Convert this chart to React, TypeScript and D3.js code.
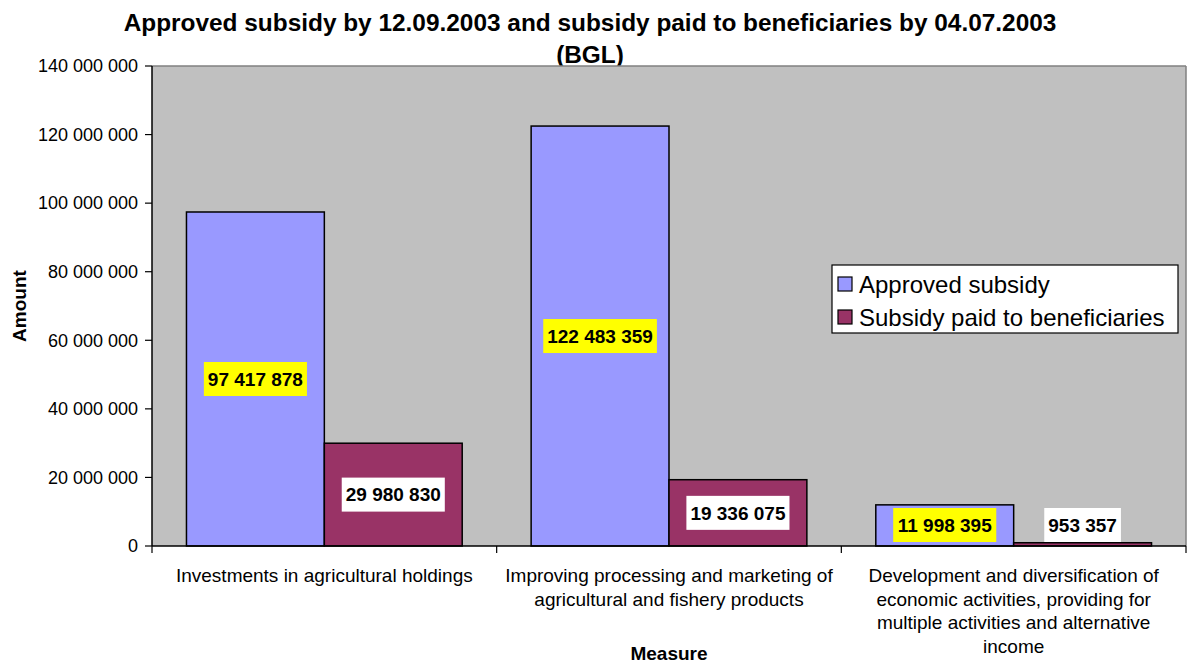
import React from "react";
import * as d3 from "d3";

const categories = [
  ["Investments in agricultural holdings"],
  ["Improving processing and marketing of", "agricultural and fishery products"],
  ["Development and diversification of", "economic activities, providing for", "multiple activities and alternative", "income"],
];
const seriesNames = ["Approved subsidy", "Subsidy paid to beneficiaries"];
const approved = [97417878, 122483359, 11998395];
const paid = [29980830, 19336075, 953357];
const yTicks = [0, 20000000, 40000000, 60000000, 80000000, 100000000, 120000000, 140000000];

const W = 1187, H = 664;
const m = { left: 152, right: 1186, top: 66, bottom: 546 };
const colors = ["#9999FF", "#993366"];
const labelBg = ["#FFFF00", "#FFFFFF"];
const font = "Arial, 'Liberation Sans', Helvetica, sans-serif";

const fmt = (v: number) => d3.format(",")(v).replace(/,/g, " ");

export default function App() {
  const x = d3.scaleBand<number>().domain([0, 1, 2]).range([m.left, m.right]).padding(0);
  const bw = x.bandwidth();
  const xs = d3.scaleBand<number>().domain([0, 1]).range([bw * 0.1, bw * 0.9]).padding(0);
  const y = d3.scaleLinear().domain([0, 140000000]).range([m.bottom, m.top]);
  const series = [approved, paid];
  const lfs = 19;

  return (
    <svg width={W} height={H} style={{ position: "absolute", left: 0, top: 0, fontFamily: font }}>
      <rect x={0} y={0} width={W} height={H} fill="#fff" />
      <text x={590} y={31} textAnchor="middle" fontSize={24.4} fontWeight="bold">
        Approved subsidy by 12.09.2003 and subsidy paid to beneficiaries by 04.07.2003
      </text>
      <text x={590} y={63} textAnchor="middle" fontSize={24.4} fontWeight="bold">(BGL)</text>
      <rect x={m.left} y={m.top} width={m.right - m.left} height={m.bottom - m.top} fill="#C0C0C0" />
      <line x1={m.left} x2={m.right} y1={m.top} y2={m.top} stroke="#808080" strokeWidth={1.5} />
      <line x1={m.right} x2={m.right} y1={m.top} y2={m.bottom} stroke="#808080" strokeWidth={1.5} />
      {series.map((vals, si) =>
        vals.map((v, ci) => {
          const bx = (x(ci) as number) + (xs(si) as number);
          return (
            <rect key={`b${si}-${ci}`} x={bx} y={y(v)} width={xs.bandwidth()} height={m.bottom - y(v)}
              fill={colors[si]} stroke="#000" strokeWidth={1.5} />
          );
        })
      )}
      {/* axes */}
      <line x1={m.left} x2={m.left} y1={m.top} y2={m.bottom} stroke="#000" strokeWidth={1.5} />
      <line x1={m.left} x2={m.right} y1={m.bottom} y2={m.bottom} stroke="#000" strokeWidth={1.5} />
      {yTicks.map((t) => (
        <g key={`yt${t}`}>
          <line x1={m.left - 7} x2={m.left} y1={y(t)} y2={y(t)} stroke="#000" strokeWidth={1.2} />
          <text x={m.left - 14} y={y(t)} dy="0.35em" textAnchor="end" fontSize={18}>{fmt(t)}</text>
        </g>
      ))}
      {[0, 1, 2, 3].map((i) => {
        const tx = m.left + bw * i;
        return <line key={`xt${i}`} x1={tx} x2={tx} y1={m.bottom} y2={m.bottom + 7} stroke="#000" strokeWidth={1.2} />;
      })}
      {categories.map((lines, ci) => (
        <text key={`cl${ci}`} textAnchor="middle" fontSize={19}>
          {lines.map((l, li) => (
            <tspan key={li} x={(x(ci) as number) + bw / 2} y={582 + li * 23.5}>{l}</tspan>
          ))}
        </text>
      ))}
      <text x={(m.left + m.right) / 2} y={660} textAnchor="middle" fontSize={19} fontWeight="bold">Measure</text>
      <text transform={`translate(26,${(m.top + m.bottom) / 2}) rotate(-90)`} textAnchor="middle" fontSize={19} fontWeight="bold">Amount</text>
      {/* data labels */}
      {series.map((vals, si) =>
        vals.map((v, ci) => {
          const cx = (x(ci) as number) + (xs(si) as number) + xs.bandwidth() / 2;
          const s = fmt(v);
          const nd = s.replace(/ /g, "").length;
          const ns = s.length - nd;
          const tw = nd * 0.556 * lfs + ns * 0.278 * lfs;
          const bh = 34;
          let cy = (y(v) + m.bottom) / 2;
          if (cy > m.bottom - 21) cy = m.bottom - 21;
          return (
            <g key={`l${si}-${ci}`}>
              <rect x={cx - tw / 2 - 4} y={cy - bh / 2} width={tw + 8} height={bh} fill={labelBg[si]} />
              <text x={cx} y={cy} dy="0.36em" textAnchor="middle" fontSize={lfs} fontWeight="bold">{s}</text>
            </g>
          );
        })
      )}
      {/* legend */}
      <rect x={832} y={265} width={346} height={68} fill="#fff" stroke="#000" strokeWidth={1.2} />
      {seriesNames.map((n, i) => (
        <g key={`lg${i}`}>
          <rect x={838} y={277 + i * 33} width={14} height={14} fill={colors[i]} stroke="#000" strokeWidth={1.2} />
          <text x={859} y={284 + i * 33} dy="0.36em" fontSize={24}>{n}</text>
        </g>
      ))}
    </svg>
  );
}
